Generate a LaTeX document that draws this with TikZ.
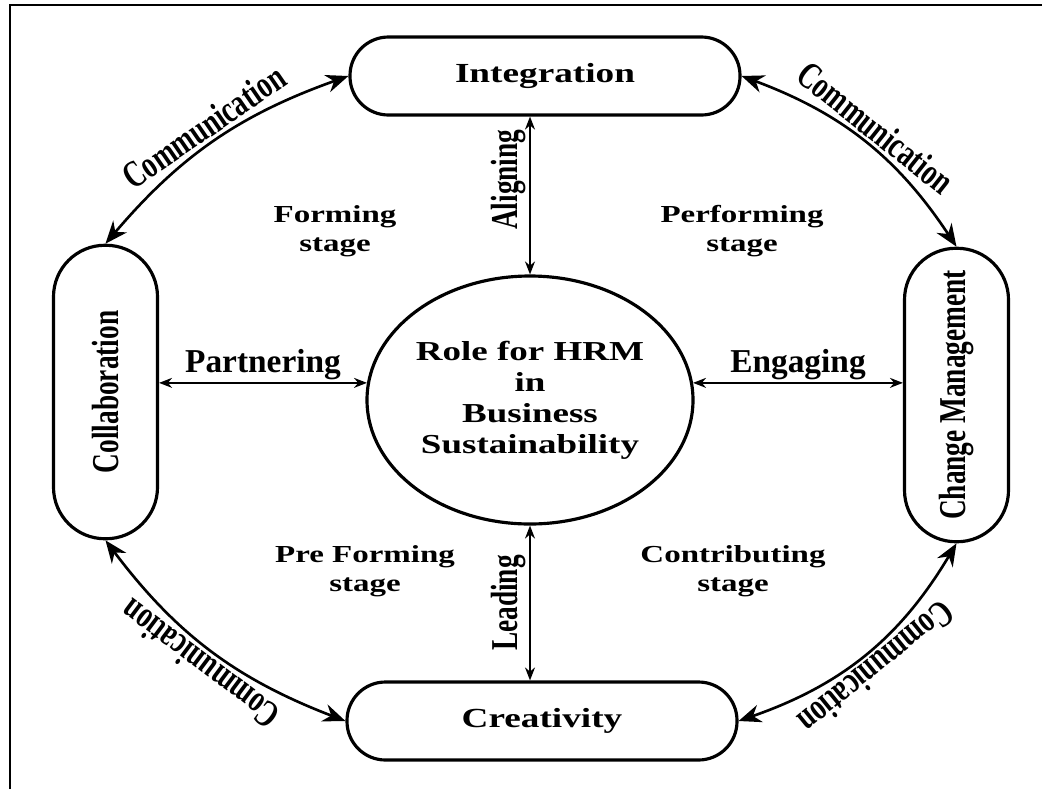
\documentclass[tikz,border=0pt]{standalone}
\usepackage{fontspec}
\setmainfont{Liberation Serif}
\newfontfamily\widefont{Liberation Serif}[FakeStretch=1.35]
\newfontfamily\condfont{Liberation Serif}[FakeStretch=0.72]
\usepackage{tikz}
\usetikzlibrary{arrows.meta,shapes.geometric}

\begin{document}
\begin{tikzpicture}[
	hpill/.style={draw, line width=1.8pt, rounded corners=0.77cm, minimum width=7.8cm, minimum height=1.56cm, font=\widefont\bfseries\fontsize{15.7}{18}\selectfont},
	vpill/.style={draw, line width=1.8pt, rounded corners=1.03cm, minimum width=2.08cm, minimum height=5.87cm, font=\condfont\bfseries\fontsize{21.6}{24}\selectfont},
	hub/.style={draw, ellipse, line width=1.8pt, minimum width=6.52cm, minimum height=4.96cm, inner sep=0pt, align=center, font=\widefont\bfseries\fontsize{15.6}{17.6}\selectfont},
	stagetxt/.style={align=center, font=\widefont\bfseries\fontsize{13.9}{16.5}\selectfont},
	comm/.style={{Stealth[length=4.5mm,width=3.6mm]}-{Stealth[length=4.5mm,width=3.6mm]}, line width=1.5pt},
	link/.style={{Stealth[length=2.6mm,width=2mm]}-{Stealth[length=2.6mm,width=2mm]}, line width=1pt},
	commtxt/.style={sloped, above, inner sep=2pt, font=\condfont\bfseries\fontsize{21.6}{24}\selectfont},
	linktxt/.style={inner sep=1pt, font=\bfseries\fontsize{19}{22}\selectfont},
	vlinktxt/.style={sloped, above, inner sep=2pt, font=\condfont\bfseries\fontsize{21.6}{24}\selectfont}
	]
			\useasboundingbox (0,0) rectangle (20.84,-15.78);
			\draw[line width=1.2pt] (0.2,-15.78) -- (0.2,-0.1) -- (20.84,-0.1);
			
			\node[hub] (role) at (10.6,-8.0) {Role for HRM\\in\\Business\\Sustainability};
			
			\node[hpill] (int) at (10.9,-1.52) {Integration};
			\node[hpill] (cre) at (10.84,-14.42) {Creativity};
			\node[vpill] (col) at (2.11,-7.84) {\rotatebox{90}{Collaboration}};
			\node[vpill] (chm) at (19.13,-7.9) {\rotatebox{90}{Change Management}};
			
			\node[stagetxt] (fs) at (6.7,-4.62) {Forming\\stage};
			\node[stagetxt] (ps) at (14.84,-4.62) {Performing\\stage};
			\node[stagetxt] (pfs) at (7.3,-11.42) {Pre Forming\\stage};
			\node[stagetxt] (cs) at (14.66,-11.42) {Contributing\\stage};
			
			\draw[link] (role.north) -- (role.north |- int.south) node[vlinktxt, pos=0.6] {Aligning};
			\draw[link] (role.south |- cre.north) -- (role.south) node[vlinktxt, midway] {Leading};
			\draw[link] (role.174 -| col.east) -- (role.174) node[linktxt, midway, above] {Partnering};
			\draw[link] (role.6) -- (role.6 -| chm.west) node[linktxt, midway, above] {Engaging};
			
			\draw[comm] (col.north) to[bend left=15] node[commtxt] {Communication} (int.west);
			\draw[comm] (int.east) to[bend left=18] node[commtxt] {Communication} (chm.north);
			\draw[comm] (chm.south) to[bend left=20] node[commtxt, allow upside down] {Communication} (cre.east);
			\draw[comm] (cre.west) to[bend left=16] node[commtxt, allow upside down] {Communication} (col.south);
			
\end{tikzpicture}
\end{document}
